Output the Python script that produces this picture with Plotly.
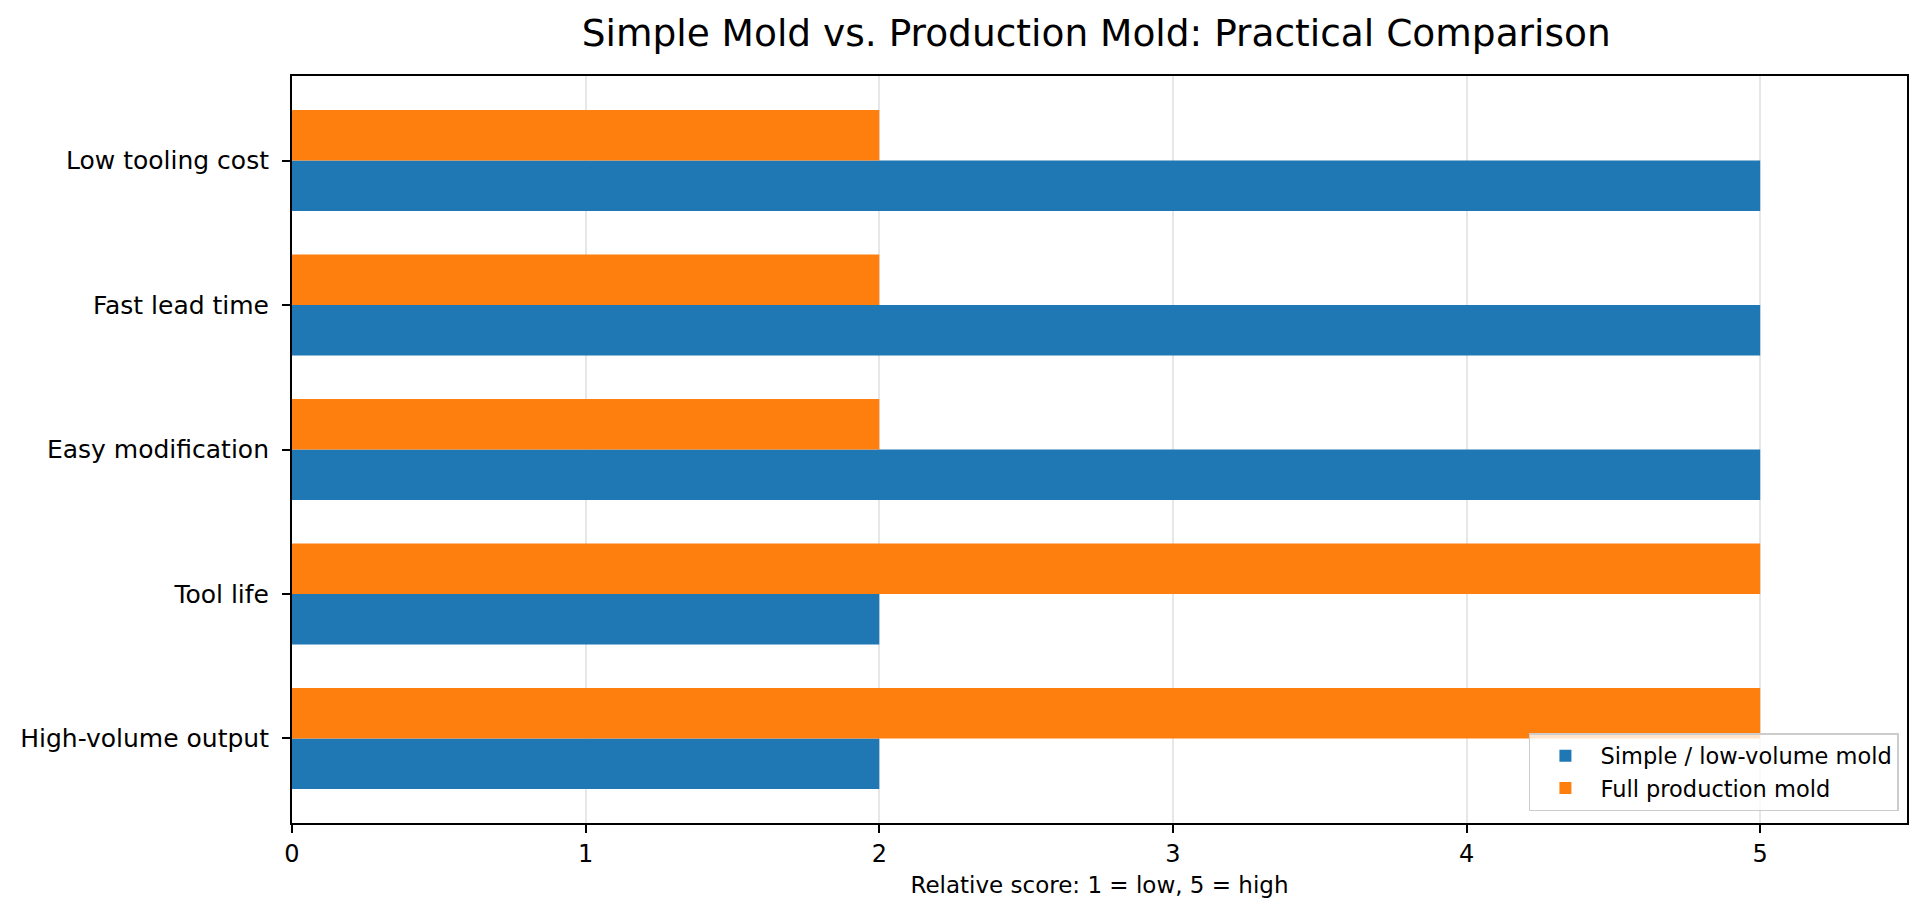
import plotly.graph_objects as go

# categories listed top to bottom, as in the chart
criteria = ["Low tooling cost", "Fast lead time", "Easy modification", "Tool life", "High-volume output"]
simple_scores = [5, 5, 5, 2, 2]
production_scores = [2, 2, 2, 5, 5]
x_ticks = [0, 1, 2, 3, 4, 5]

bar_h = 0.35
font = "DejaVu Sans"

fig = go.Figure()

# blue sits just below the tick (axis is reversed), orange just above
fig.add_trace(go.Bar(
    y=criteria, x=simple_scores, orientation="h",
    name="Simple / low-volume mold",
    marker=dict(color="#1f77b4", line=dict(width=0)),
    width=bar_h, offset=0,
))
fig.add_trace(go.Bar(
    y=criteria, x=production_scores, orientation="h",
    name="Full production mold",
    marker=dict(color="#ff7f0e", line=dict(width=0)),
    width=bar_h, offset=-bar_h,
))

fig.update_layout(
    width=1926, height=917,
    margin=dict(l=278, r=27, t=68, b=102),
    paper_bgcolor="white", plot_bgcolor="white",
    barmode="overlay",
    font=dict(family=font, color="black", size=23),
    title=dict(
        text="Simple Mold vs. Production Mold: Practical Comparison",
        x=0.565, xanchor="center", y=0.973, yanchor="middle",
        font=dict(size=37.5, family=font, color="black"),
    ),
    legend=dict(
        x=0.995, y=0.016, xanchor="right", yanchor="bottom",
        bgcolor="rgba(255,255,255,0.8)", bordercolor="#cccccc", borderwidth=1.5,
        font=dict(size=22.5, family=font), traceorder="normal",
        itemwidth=60, tracegroupgap=0,
    ),
    showlegend=True,
)

fig.update_xaxes(
    range=[0, 5.5], tickvals=x_ticks,
    showgrid=True, gridcolor="#e7e7e7", gridwidth=1.5,
    showline=True, linecolor="black", linewidth=2, mirror=True,
    ticks="outside", ticklen=8, tickwidth=2, tickcolor="black",
    zeroline=False,
    tickfont=dict(size=24),
    title=dict(text="Relative score: 1 = low, 5 = high", font=dict(size=23), standoff=10),
)
fig.update_yaxes(
    type="category", categoryorder="array", categoryarray=criteria,
    range=[4.585, -0.585],
    showgrid=False,
    showline=True, linecolor="black", linewidth=2, mirror=True,
    ticks="outside", ticklen=8, tickwidth=2, tickcolor="black",
    ticklabelstandoff=8,
    tickfont=dict(size=25),
)

fig.write_html("out.html")
